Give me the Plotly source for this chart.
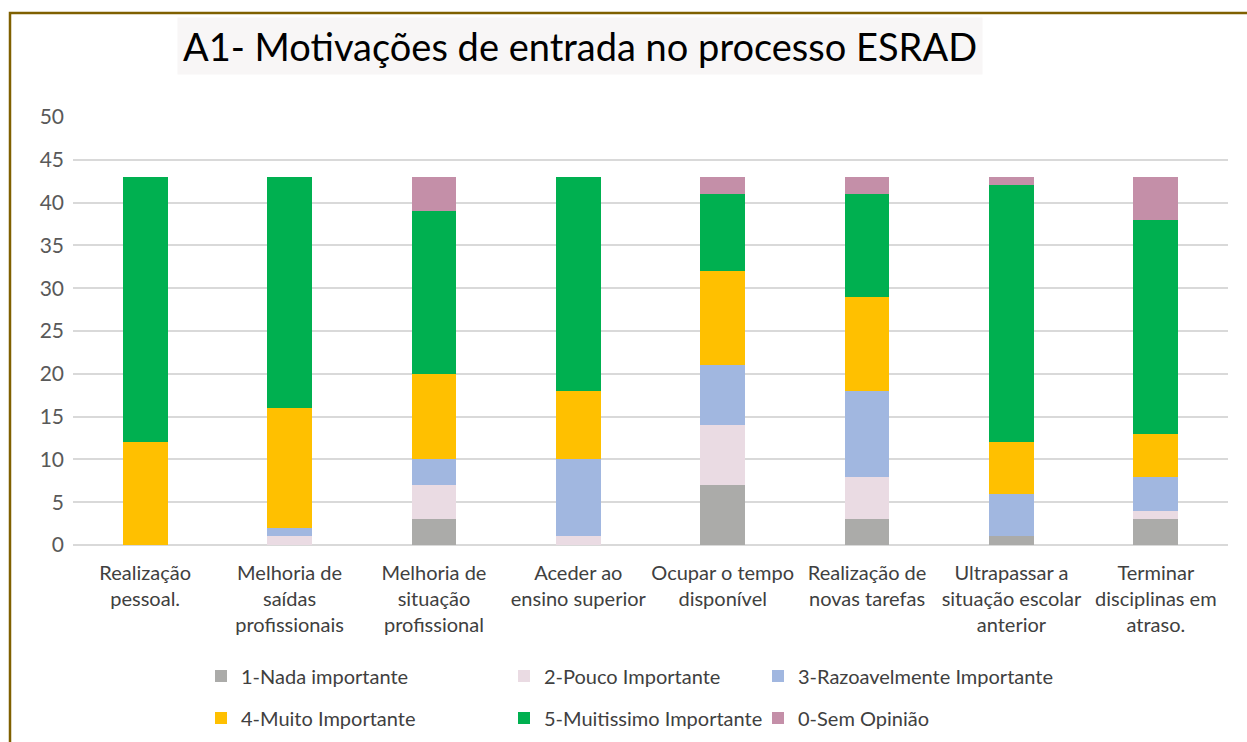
import plotly.graph_objects as go

categories = ["Realização<br>pessoal.", "Melhoria de<br>saídas<br>profissionais", "Melhoria de<br>situação<br>profissional",
              "Aceder ao<br>ensino superior", "Ocupar o tempo<br>disponível", "Realização de<br>novas tarefas",
              "Ultrapassar a<br>situação escolar<br>anterior", "Terminar<br>disciplinas em<br>atraso."]

nada = [0, 0, 3, 0, 7, 3, 1, 3]
pouco = [0, 1, 4, 1, 7, 5, 0, 1]
razoavel = [0, 1, 3, 9, 7, 10, 5, 4]
muito = [12, 14, 10, 8, 11, 11, 6, 5]
muitissimo = [31, 27, 19, 25, 9, 12, 30, 25]
sem_opiniao = [0, 0, 4, 0, 2, 2, 1, 5]

series = [
    ("1-Nada importante", nada, "#ABABA9"),
    ("2-Pouco Importante", pouco, "#EADBE3"),
    ("3-Razoavelmente Importante", razoavel, "#A1B7E0"),
    ("4-Muito Importante", muito, "#FFC000"),
    ("5-Muitissimo Importante", muitissimo, "#00B050"),
    ("0-Sem Opinião", sem_opiniao, "#C48FA8"),
]

FONT = "Lato"
W, H = 1247, 742
L, R, T, B = 73, 19, 117, 197
pw, ph = W - L - R, H - T - B

def px_x(px):
    return (px - L) / pw

def px_y(py):
    return (H - B - py) / ph

# legend grid: 3 columns x 2 rows (pixel anchors for each legend box)
legend_cols = [201, 504, 758]
legend_rows = [676, 718]

fig = go.Figure()
legend_layout = {}
for i, (name, vals, color) in enumerate(series):
    key = "legend" if i == 0 else f"legend{i + 1}"
    fig.add_trace(go.Bar(x=categories, y=vals, name=name, marker_color=color,
                         marker_line_width=0, legend=key))
    legend_layout[key] = dict(x=px_x(legend_cols[i % 3]), y=px_y(legend_rows[i // 3]),
                              xanchor="left", yanchor="middle",
                              font=dict(family=FONT, size=20, color="#404040"),
                              bgcolor="rgba(0,0,0,0)", itemwidth=30)

fig.update_layout(
    width=W, height=H,
    margin=dict(l=L, r=R, t=T, b=B, autoexpand=False),
    barmode="stack", bargap=0.69,
    plot_bgcolor="white", paper_bgcolor="white",
    font=dict(family=FONT, color="#595959"),
    showlegend=True,
    xaxis=dict(tickfont=dict(family=FONT, size=20, color="#404040"), showline=False,
               ticks="", showgrid=False, ticklabelstandoff=14),
    yaxis=dict(range=[0, 50], dtick=5, tickfont=dict(family=FONT, size=21, color="#595959"),
               gridcolor="#D9D9D9", gridwidth=1.5, zeroline=True, zerolinecolor="#D9D9D9",
               zerolinewidth=1.5, ticks="", ticklabelstandoff=8),
    **legend_layout,
)

fig.add_annotation(text="A1- Motivações de entrada no processo ESRAD", xref="paper", yref="paper",
                   x=px_x(580), y=px_y(46), xanchor="center", yanchor="middle", showarrow=False,
                   font=dict(family=FONT, size=38, color="#000000"), bgcolor="#F8F6F6",
                   borderpad=5)

fig.add_shape(type="rect", xref="paper", yref="paper", x0=px_x(10), x1=px_x(1300),
              y0=px_y(800), y1=px_y(13), line=dict(color="#7F6000", width=2.5), layer="below")

fig.write_html("out.html", config={"displayModeBar": False},
               post_script="document.body.style.margin='0';")
